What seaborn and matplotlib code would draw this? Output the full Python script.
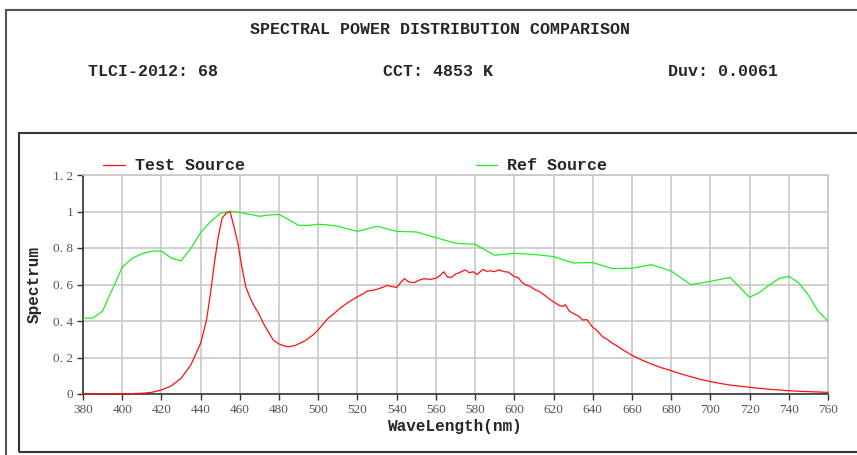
import matplotlib
matplotlib.use("Agg")
import matplotlib.pyplot as plt
import pandas as pd
import seaborn as sns
from matplotlib.lines import Line2D
from matplotlib.patches import Rectangle

# header values
title = "SPECTRAL POWER DISTRIBUTION COMPARISON"
tlci = 68
cct = 4853
duv = 0.0061

# test source spectrum
test_wl = [380, 385, 390, 395, 400, 405, 410, 415, 420, 425, 430, 435, 440, 443, 445, 447,
           449, 451, 453, 455, 457, 459, 461, 463, 465, 467, 470, 472, 475, 477, 480, 483,
           485, 488, 490, 493, 495, 498, 500, 503, 505, 508, 510, 513, 515, 518, 520, 523,
           525, 528, 530, 533, 535, 537, 540, 542, 544, 546, 549, 551, 554, 557, 560, 562,
           564, 566, 568, 570, 572, 575, 577, 579, 581, 584, 586, 588, 590, 592, 595, 597,
           600, 602, 604, 606, 608, 610, 613, 615, 618, 620, 623, 625, 626, 628, 630, 633,
           635, 637, 640, 642, 645, 648, 650, 653, 655, 658, 660, 665, 670, 675, 680, 685,
           690, 695, 700, 705, 710, 715, 720, 725, 730, 735, 740, 745, 750, 755, 760]
test_val = [0.0, 0.0, 0.0, 0.0, 0.001, 0.002, 0.004, 0.009, 0.022, 0.044, 0.086, 0.159, 0.278,
            0.405, 0.55, 0.716, 0.862, 0.965, 0.99, 1.0, 0.917, 0.826, 0.698, 0.588, 0.533,
            0.488, 0.433, 0.387, 0.332, 0.296, 0.274, 0.262, 0.259, 0.265, 0.275, 0.29, 0.305,
            0.33, 0.352, 0.39, 0.415, 0.44, 0.46, 0.485, 0.50, 0.52, 0.533, 0.55, 0.564, 0.568,
            0.574, 0.585, 0.595, 0.59, 0.584, 0.61, 0.632, 0.615, 0.61, 0.622, 0.632, 0.628,
            0.634, 0.648, 0.670, 0.64, 0.64, 0.657, 0.665, 0.68, 0.665, 0.67, 0.655, 0.683,
            0.672, 0.675, 0.670, 0.68, 0.670, 0.668, 0.643, 0.638, 0.61, 0.597, 0.59, 0.575,
            0.56, 0.545, 0.52, 0.505, 0.485, 0.48, 0.49, 0.455, 0.442, 0.425, 0.405, 0.408,
            0.365, 0.35, 0.314, 0.295, 0.278, 0.26, 0.245, 0.225, 0.212, 0.186, 0.164, 0.144,
            0.128, 0.11, 0.095, 0.080, 0.068, 0.058, 0.049, 0.043, 0.037, 0.031, 0.026, 0.022,
            0.018, 0.015, 0.013, 0.011, 0.009]

# reference source spectrum
ref_wl = [380, 385, 390, 400, 405, 410, 415, 420, 425, 430, 435, 440, 445, 450, 455, 460,
          465, 470, 475, 480, 485, 490, 495, 500, 505, 510, 520, 530, 540, 550, 560, 570,
          580, 590, 600, 610, 620, 630, 640, 650, 660, 670, 680, 690, 700, 710, 720, 725,
          730, 735, 740, 745, 750, 755, 760]
ref_val = [0.415, 0.416, 0.455, 0.694, 0.743, 0.768, 0.782, 0.784, 0.745, 0.729, 0.798,
           0.884, 0.944, 0.99, 1.0, 0.995, 0.984, 0.974, 0.981, 0.984, 0.955, 0.924, 0.924,
           0.930, 0.926, 0.919, 0.891, 0.919, 0.891, 0.888, 0.857, 0.826, 0.820, 0.760,
           0.771, 0.765, 0.753, 0.718, 0.720, 0.687, 0.689, 0.709, 0.674, 0.599, 0.617,
           0.639, 0.530, 0.556, 0.597, 0.632, 0.645, 0.610, 0.542, 0.453, 0.400]

x_ticks = list(range(380, 761, 20))
y_ticks = [0, 0.2, 0.4, 0.6, 0.8, 1.0, 1.2]
y_tick_labels = ["0", "0. 2", "0. 4", "0. 6", "0. 8", "1", "1. 2"]

red = "#ff1010"
green = "#22ee22"

sns.set_style("white")
plt.rcParams["font.family"] = ["Liberation Mono", "DejaVu Sans Mono"]

df = pd.concat([
    pd.DataFrame({"wl": test_wl, "val": test_val, "src": "Test Source"}),
    pd.DataFrame({"wl": ref_wl, "val": ref_val, "src": "Ref Source"}),
])

fig = plt.figure(figsize=(8.57, 4.55), dpi=100)
ax = fig.add_axes([83 / 857, 1 - 394 / 455, 745 / 857, 219 / 455])

sns.lineplot(data=df, x="wl", y="val", hue="src", palette={"Test Source": red, "Ref Source": green},
             hue_order=["Ref Source", "Test Source"], linewidth=0.9, legend=False,
             estimator=None, sort=False, ax=ax)
for line in ax.get_lines():
    line.set_clip_on(False)
    line.set_zorder(3)

ax.set_xlim(380, 760)
ax.set_ylim(0, 1.2)
ax.set_xticks(x_ticks)
ax.set_yticks(y_ticks)
ax.set_yticklabels(y_tick_labels)
ax.grid(True, color="#c8c8c8", linewidth=1.2)
ax.set_axisbelow(True)
for lab in ax.get_xticklabels() + ax.get_yticklabels():
    lab.set_family("Liberation Serif")
    lab.set_fontsize(9.5)
    lab.set_color("#555555")
ax.tick_params(axis="both", length=4, width=1, color="#333333", pad=3, bottom=True, left=True)
for side in ["left", "bottom"]:
    ax.spines[side].set_color("#333333")
    ax.spines[side].set_linewidth(1.2)
    ax.spines[side].set_zorder(2.5)
for side in ["top", "right"]:
    ax.spines[side].set_color("#c8c8c8")
    ax.spines[side].set_linewidth(1.2)

ax.set_xlabel("WaveLength(nm)", fontsize=11.5, fontweight="bold", labelpad=2)
ax.set_ylabel("Spectrum", fontsize=11.5, fontweight="bold", labelpad=8)

# outer frames
fig.add_artist(Rectangle((6 / 857, -0.1), 1.0, 1 - 10 / 455 + 0.1, transform=fig.transFigure,
                         fill=False, edgecolor="#555555", linewidth=1.5))
fig.add_artist(Rectangle((19 / 857, 1 - 452 / 455), 1.0, (452 - 133) / 455, transform=fig.transFigure,
                         fill=False, edgecolor="#333333", linewidth=1.5))

# header text
fig.text(440 / 857, 1 - 30 / 455, title, ha="center", va="center", fontsize=12, fontweight="bold")
fig.text(88 / 857, 1 - 71 / 455, f"TLCI-2012: {tlci}", ha="left", va="center", fontsize=12, fontweight="bold")
fig.text(383 / 857, 1 - 71 / 455, f"CCT: {cct} K", ha="left", va="center", fontsize=12, fontweight="bold")
fig.text(668 / 857, 1 - 71 / 455, f"Duv: {duv}", ha="left", va="center", fontsize=12, fontweight="bold")

# legend
for x0, x1, tx, color, label in [(103, 125, 135, red, "Test Source"), (476, 497, 507, green, "Ref Source")]:
    fig.add_artist(Line2D([x0 / 857, x1 / 857], [1 - 165 / 455] * 2, color=color, linewidth=0.9,
                          transform=fig.transFigure))
    fig.text(tx / 857, 1 - 165 / 455, label, ha="left", va="center", fontsize=12, fontweight="bold")

fig.savefig("out.png", dpi=100)
